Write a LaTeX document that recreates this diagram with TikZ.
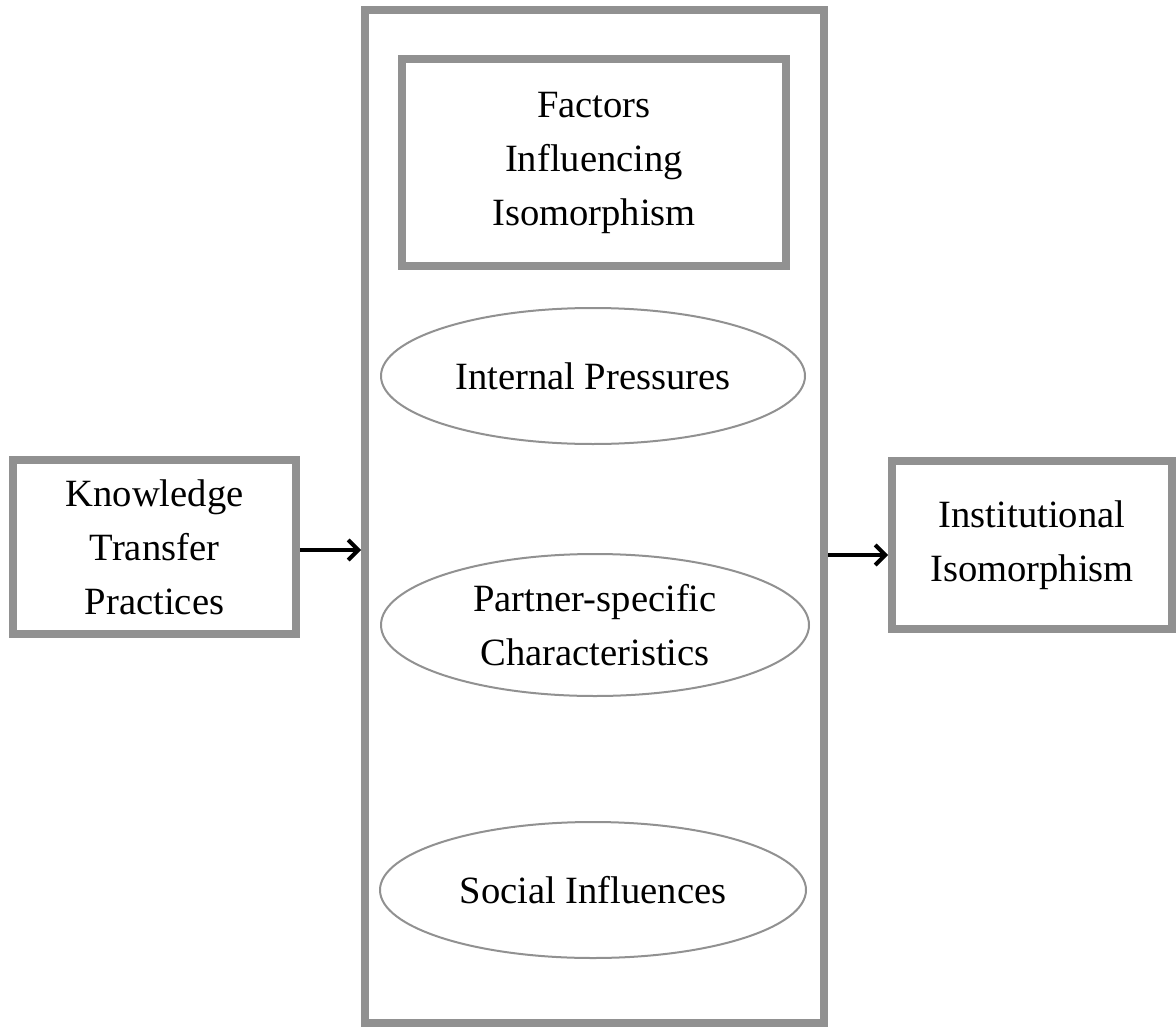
\documentclass[tikz,border=0pt]{standalone}
\usepackage{fontspec}
\setmainfont{Liberation Serif}
\usepackage{xcolor}
\usepackage{tikz}
\usetikzlibrary{arrows.meta,positioning,shapes.geometric}
\definecolor{frame}{RGB}{145,145,145}
\definecolor{ink}{RGB}{0,0,0}
\tikzset{
  box/.style={draw=frame,line width=4pt,fill=white,align=center,text=ink,
    font=\fontsize{19.3}{27}\selectfont,inner sep=0pt},
  factor/.style={ellipse,draw=frame,line width=1pt,fill=white,align=center,
    text=ink,font=\fontsize{19.3}{27}\selectfont,inner sep=0pt},
  flow/.style={line width=2pt,ink,-{Straight Barb[length=5pt,width=10pt]}}
}
\begin{document}
\begin{tikzpicture}[x=0.5pt,y=-0.5pt]
  \useasboundingbox (0,0) rectangle (1176,1027);
  \node[box,minimum width=229.5pt,minimum height=506.5pt] (mid) at (594.5,516.5) {};
  \node[box,minimum width=192pt,minimum height=103.5pt] (fii) at (594,162.5) {Factors\\Influencing\\Isomorphism};
  \node[factor,minimum width=212pt,minimum height=68pt] (ip) at (593,376) {Internal Pressures};
  \node[factor,minimum width=214pt,minimum height=71pt] (psc) at (595,625) {Partner-specific\\Characteristics};
  \node[factor,minimum width=213pt,minimum height=68pt] (si) at (593,890) {Social Influences};
  \node[box,minimum width=141.5pt,minimum height=87pt] (ktp) at (154.5,547) {Knowledge\\Transfer\\Practices};
  \node[box,minimum width=140pt,minimum height=84pt] (ii) at (1032,545) {Institutional\\Isomorphism};
  \draw[flow] ([yshift=-1.5pt]ktp.east) -- ([yshift=-1.5pt]ktp.east -| mid.west);
  \draw[flow] ([yshift=-5pt]ii.west -| mid.east) -- ([yshift=-5pt]ii.west);
\end{tikzpicture}
\end{document}
